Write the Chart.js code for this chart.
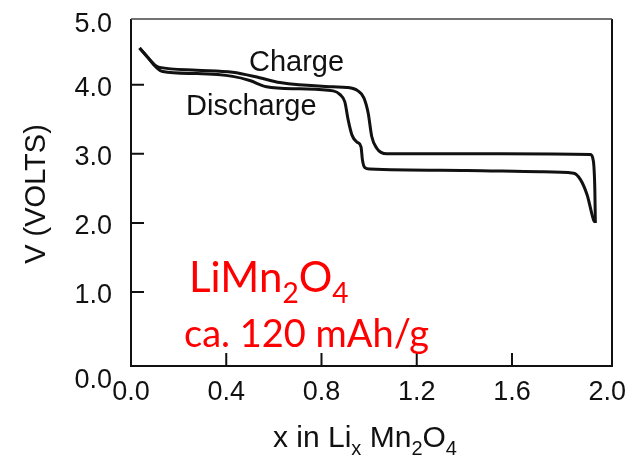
<!DOCTYPE html>
<html>
<head>
<meta charset="utf-8">
<script src="https://cdn.jsdelivr.net/npm/chart.js@4"></script>
<style>
  html, body { margin: 0; padding: 0; background: #fff; }
  canvas { display: block; }
</style>
</head>
<body>
<canvas id="myChart" width="636" height="462"></canvas>
<script>
// values (x in LixMn2O4, volts)
const chargeX = [0.036, 0.069, 0.106, 0.120, 0.276, 0.427, 0.540, 0.625, 0.848, 0.907, 0.953, 0.978, 0.996, 1.011, 1.032, 1.050, 1.075, 1.550, 1.929, 1.939, 1.944, 1.948, 1.950];
const chargeV = [4.53, 4.40, 4.27, 4.25, 4.21, 4.18, 4.10, 4.03, 3.97, 3.96, 3.91, 3.81, 3.59, 3.25, 3.08, 3.02, 3.00, 3.00, 2.99, 2.94, 2.82, 2.47, 2.00];

const dischargeX = [0.036, 0.069, 0.106, 0.133, 0.276, 0.427, 0.499, 0.569, 0.709, 0.849, 0.877, 0.898, 0.912, 0.928, 0.949, 0.966, 0.972, 0.982, 1.003, 1.410, 1.719, 1.859, 1.887, 1.916, 1.943, 1.950];
const dischargeV = [4.53, 4.40, 4.25, 4.19, 4.16, 4.12, 4.06, 3.97, 3.94, 3.91, 3.86, 3.75, 3.49, 3.27, 3.17, 3.10, 2.91, 2.80, 2.78, 2.76, 2.74, 2.72, 2.63, 2.40, 2.04, 2.01];

const xTicks = [0.0, 0.4, 0.8, 1.2, 1.6, 2.0];
const yTicks = [0.0, 1.0, 2.0, 3.0, 4.0, 5.0];

const ctx = document.getElementById("myChart").getContext("2d");

function toPoints(xs, ys) {
  let pts = [];
  for (let i = 0; i < xs.length; i++) {
    pts.push({ x: xs[i], y: ys[i] });
  }
  return pts;
}

// draws a string made of normal + subscript parts
function drawParts(c, parts, x, y, size, family, color) {
  c.fillStyle = color;
  c.textAlign = "left";
  c.textBaseline = "alphabetic";
  let cx = x;
  for (let p of parts) {
    if (p.sub) {
      c.font = Math.round(size * 0.66) + "px " + family;
      c.fillText(p.t, cx, y + size * 0.25);
    } else {
      c.font = size + "px " + family;
      c.fillText(p.t, cx, y);
    }
    cx += c.measureText(p.t).width;
  }
}

const axisFont = "'Liberation Sans', Arial, sans-serif";

const framePlugin = {
  id: "frame",
  afterDatasetsDraw(chart) {
    const c = chart.ctx;
    const a = chart.chartArea;
    const xs = chart.scales.x;
    const ys = chart.scales.y;
    c.save();

    // box
    c.strokeStyle = "#111";
    c.lineWidth = 2;
    c.beginPath();
    c.moveTo(a.left, a.top);
    c.lineTo(a.left, a.bottom);
    c.lineTo(a.right, a.bottom);
    c.lineTo(a.right, a.top);
    c.stroke();
    c.strokeStyle = "#444";
    c.lineWidth = 1.5;
    c.beginPath();
    c.moveTo(a.left, a.top);
    c.lineTo(a.right, a.top);
    c.stroke();

    // inward ticks
    c.strokeStyle = "#111";
    c.lineWidth = 2;
    c.beginPath();
    for (let v of xTicks) {
      const px = xs.getPixelForValue(v);
      if (v > 0 && v < 2.0) {
        c.moveTo(px, a.bottom);
        c.lineTo(px, a.bottom - 13);
      }
    }
    for (let v of yTicks) {
      const py = ys.getPixelForValue(v);
      if (v > 0 && v < 5.0) {
        c.moveTo(a.left, py);
        c.lineTo(a.left + 13, py);
      }
    }
    c.stroke();

    // tick labels
    c.fillStyle = "#111";
    c.font = "27px " + axisFont;
    c.textAlign = "center";
    c.textBaseline = "middle";
    for (let v of xTicks) {
      c.fillText(v.toFixed(1), xs.getPixelForValue(v), a.bottom + 27);
    }
    c.textAlign = "right";
    for (let v of yTicks) {
      let py = ys.getPixelForValue(v) + 4;
      if (v == 0) py = a.bottom + 15;
      if (v == 5) py = a.top + 6;
      c.fillText(v.toFixed(1), 112, py);
    }

    // axis titles
    c.save();
    c.translate(37, 194);
    c.rotate(-Math.PI / 2);
    c.textAlign = "center";
    c.textBaseline = "middle";
    c.font = "29px " + axisFont;
    c.fillText("V (VOLTS)", 0, 0);
    c.restore();

    drawParts(c, [
      { t: "x in Li" }, { t: "x", sub: true }, { t: " Mn" }, { t: "2", sub: true }, { t: "O" }, { t: "4", sub: true }
    ], 273, 447, 30, axisFont, "#111");

    // curve labels
    c.font = "29px " + axisFont;
    c.fillStyle = "#111";
    c.textAlign = "left";
    c.textBaseline = "alphabetic";
    c.fillText("Charge", 249, 71);
    c.fillText("Discharge", 186, 115);

    // red annotation
    drawParts(c, [
      { t: "LiMn" }, { t: "2", sub: true }, { t: "O" }, { t: "4", sub: true }
    ], 189, 292, 42, "Lato, 'Noto Sans', sans-serif", "#ff0000");
    c.font = "38px Lato, 'Noto Sans', sans-serif";
    c.fillStyle = "#ff0000";
    c.fillText("ca. 120 mAh/g", 184, 347);

    c.restore();
  },
};

var myChart = new Chart(ctx, {
  type: "scatter",
  data: {
    datasets: [
      {
        label: "Charge",
        data: toPoints(chargeX, chargeV),
        showLine: true,
        borderColor: "#111",
        borderWidth: 3,
        pointRadius: 0,
        cubicInterpolationMode: "monotone",
        fill: false,
      },
      {
        label: "Discharge",
        data: toPoints(dischargeX, dischargeV),
        showLine: true,
        borderColor: "#111",
        borderWidth: 3,
        pointRadius: 0,
        cubicInterpolationMode: "monotone",
        fill: false,
      },
    ],
  },
  options: {
    responsive: false,
    animation: false,
    layout: {
      padding: { left: 131, right: 24, top: 19, bottom: 96 },
    },
    scales: {
      x: {
        type: "linear",
        min: 0,
        max: 2.02,
        display: false,
      },
      y: {
        type: "linear",
        min: -0.07,
        max: 4.95,
        display: false,
      },
    },
    plugins: {
      legend: { display: false },
      tooltip: { enabled: false },
    },
  },
  plugins: [framePlugin],
});
</script>
</body>
</html>
